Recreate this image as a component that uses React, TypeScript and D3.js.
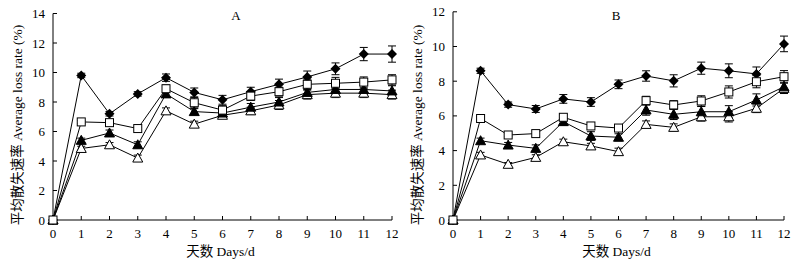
import React from "react";
import * as d3 from "d3";

const days = [0, 1, 2, 3, 4, 5, 6, 7, 8, 9, 10, 11, 12];

// Panel A
const aDiamond = [0, 9.8, 7.2, 8.55, 9.65, 8.65, 8.15, 8.7, 9.2, 9.7, 10.25, 11.25, 11.25];
const aDiamondErr = [0, 0.15, 0.15, 0.15, 0.25, 0.3, 0.3, 0.3, 0.35, 0.4, 0.4, 0.45, 0.55];
const aSquare = [0, 6.65, 6.6, 6.2, 8.9, 7.95, 7.45, 8.4, 8.7, 9.2, 9.27, 9.35, 9.5];
const aSquareErr = [0, 0.1, 0.15, 0.1, 0.25, 0.35, 0.3, 0.3, 0.3, 0.35, 0.4, 0.35, 0.35];
const aTriFill = [0, 5.4, 5.9, 5.1, 8.55, 7.35, 7.25, 7.65, 8.0, 8.65, 8.85, 8.85, 8.75];
const aTriFillErr = [0, 0.15, 0.2, 0.2, 0.2, 0.2, 0.2, 0.25, 0.3, 0.3, 0.35, 0.3, 0.35];
const aTriOpen = [0, 4.85, 5.1, 4.2, 7.4, 6.5, 7.1, 7.4, 7.8, 8.5, 8.6, 8.6, 8.5];
const aTriOpenErr = [0, 0.15, 0.15, 0.2, 0.2, 0.2, 0.2, 0.25, 0.3, 0.3, 0.3, 0.3, 0.3];

// Panel B
const bDiamond = [0, 8.6, 6.65, 6.4, 6.98, 6.8, 7.82, 8.3, 8.02, 8.75, 8.6, 8.42, 10.15];
const bDiamondErr = [0, 0.15, 0.15, 0.2, 0.25, 0.25, 0.25, 0.3, 0.35, 0.35, 0.4, 0.4, 0.45];
const bSquare = [0, 5.85, 4.9, 4.98, 5.92, 5.42, 5.3, 6.88, 6.63, 6.86, 7.38, 7.97, 8.26];
const bSquareErr = [0, 0.1, 0.1, 0.15, 0.15, 0.2, 0.2, 0.25, 0.25, 0.3, 0.35, 0.35, 0.35];
const bTriFill = [0, 4.57, 4.32, 4.13, 5.67, 4.84, 4.77, 6.34, 6.09, 6.24, 6.24, 6.92, 7.68];
const bTriFillErr = [0, 0.15, 0.15, 0.2, 0.2, 0.25, 0.2, 0.3, 0.3, 0.3, 0.35, 0.35, 0.35];
const bTriOpen = [0, 3.75, 3.21, 3.61, 4.51, 4.27, 3.94, 5.51, 5.34, 5.95, 5.95, 6.44, 7.59];
const bTriOpenErr = [0, 0.15, 0.1, 0.15, 0.15, 0.15, 0.2, 0.2, 0.2, 0.25, 0.3, 0.25, 0.3];

const yTicksA = [0, 2, 4, 6, 8, 10, 12, 14];
const yTicksB = [0, 2, 4, 6, 8, 10, 12];

const yLabel = "平均散失速率 Average loss rate (%)";
const xLabel = "天数 Days/d";

const FONT = "'Liberation Serif', 'Times New Roman', 'Noto Sans CJK SC', serif";

type Series = { vals: number[]; err: number[]; shape: "diamond" | "square" | "triFill" | "triOpen" };

function Marker({ shape, x, y }: { shape: Series["shape"]; x: number; y: number }) {
  if (shape === "diamond") {
    const s = 5;
    return <path d={`M${x},${y - s}L${x + s},${y}L${x},${y + s}L${x - s},${y}Z`} fill="#000" />;
  }
  if (shape === "square") {
    const s = 4;
    return <rect x={x - s} y={y - s} width={2 * s} height={2 * s} fill="#fff" stroke="#000" strokeWidth={1} />;
  }
  const s = 5;
  const d = `M${x},${y - s}L${x + s},${y + s * 0.8}L${x - s},${y + s * 0.8}Z`;
  return shape === "triFill" ? (
    <path d={d} fill="#000" stroke="#000" strokeWidth={1} />
  ) : (
    <path d={d} fill="#fff" stroke="#000" strokeWidth={1} />
  );
}

function Panel({
  x0, x1, yTop, yMax, yTicks, title, titleX, series, labelX,
}: {
  x0: number; x1: number; yTop: number; yMax: number; yTicks: number[]; title: string; titleX: number;
  series: Series[]; labelX: number;
}) {
  const y0 = 220;
  const x = d3.scaleLinear().domain([0, 12]).range([x0, x1]);
  const y = d3.scaleLinear().domain([0, yMax]).range([y0, yTop]);
  const line = d3.line<number>().x((_, i) => x(days[i])).y((v) => y(v));
  const midY = 125;
  return (
    <g fontFamily={FONT} fill="#000">
      {/* axes */}
      <line x1={x0} x2={x0} y1={y0} y2={yTop} stroke="#000" />
      <line x1={x0} x2={x1} y1={y0} y2={y0} stroke="#000" />
      {yTicks.map((t) => (
        <g key={"y" + t}>
          <line x1={x0} x2={x0 + 4} y1={y(t)} y2={y(t)} stroke="#000" />
          <text x={x0 - 8} y={y(t)} dy="0.35em" textAnchor="end" fontSize={13}>{t}</text>
        </g>
      ))}
      {days.map((t) => (
        <g key={"x" + t}>
          <line x1={x(t)} x2={x(t)} y1={y0} y2={y0 - 4} stroke="#000" />
          <text x={x(t)} y={y0 + 18} textAnchor="middle" fontSize={13}>{t}</text>
        </g>
      ))}
      <text
        transform={`translate(${labelX},${midY}) rotate(-90)`}
        textAnchor="middle"
        fontSize={13.5}
        dy="0.35em"
      >
        {yLabel}
      </text>
      <text x={(x0 + x1) / 2 - 2} y={256} textAnchor="middle" fontSize={13.5}>{xLabel}</text>
      <text x={titleX} y={20} textAnchor="middle" fontSize={13}>{title}</text>
      {/* lines */}
      {series.map((s, i) => (
        <path key={"l" + i} d={line(s.vals) || ""} fill="none" stroke="#000" strokeWidth={1} />
      ))}
      {/* error bars */}
      {series.map((s, i) => (
        <g key={"e" + i}>
          {s.vals.map((v, j) =>
            s.err[j] > 0 ? (
              <g key={j} stroke="#000" strokeWidth={1}>
                <line x1={x(days[j])} x2={x(days[j])} y1={y(v - s.err[j])} y2={y(v + s.err[j])} />
                <line x1={x(days[j]) - 4} x2={x(days[j]) + 4} y1={y(v + s.err[j])} y2={y(v + s.err[j])} />
                <line x1={x(days[j]) - 4} x2={x(days[j]) + 4} y1={y(v - s.err[j])} y2={y(v - s.err[j])} />
              </g>
            ) : null
          )}
        </g>
      ))}
      {/* markers */}
      {[series[3], series[2], series[0], series[1]].map((s, i) => (
        <g key={"m" + i}>
          {s.vals.map((v, j) => (
            <Marker key={j} shape={s.shape} x={x(days[j])} y={y(v)} />
          ))}
        </g>
      ))}
    </g>
  );
}

export default function App() {
  const seriesA: Series[] = [
    { vals: aDiamond, err: aDiamondErr, shape: "diamond" },
    { vals: aSquare, err: aSquareErr, shape: "square" },
    { vals: aTriFill, err: aTriFillErr, shape: "triFill" },
    { vals: aTriOpen, err: aTriOpenErr, shape: "triOpen" },
  ];
  const seriesB: Series[] = [
    { vals: bDiamond, err: bDiamondErr, shape: "diamond" },
    { vals: bSquare, err: bSquareErr, shape: "square" },
    { vals: bTriFill, err: bTriFillErr, shape: "triFill" },
    { vals: bTriOpen, err: bTriOpenErr, shape: "triOpen" },
  ];
  return (
    <svg
      width={810}
      height={270}
      style={{ position: "absolute", left: 0, top: 0, background: "#fff" }}
    >
      <rect width={810} height={270} fill="#fff" />
      <Panel x0={53} x1={392} yTop={13.5} yMax={14} yTicks={yTicksA} title="A" titleX={236} series={seriesA} labelX={17} />
      <Panel x0={453} x1={784} yTop={11.8} yMax={12} yTicks={yTicksB} title="B" titleX={616} series={seriesB} labelX={417} />
    </svg>
  );
}
